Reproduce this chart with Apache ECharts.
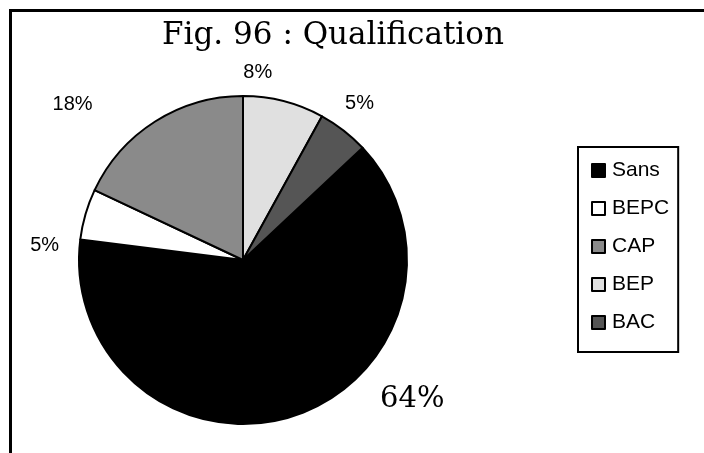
<!DOCTYPE html>
<html>
<head>
<meta charset="utf-8">
<script src="https://cdn.jsdelivr.net/npm/echarts@6/dist/echarts.min.js"></script>
<style>
  html, body { margin: 0; padding: 0; background: #fff; }
  #main { width: 704px; height: 453px; }
</style>
</head>
<body>
<div id="main"></div>
<script>
// qualification shares, in percent
const categories = ['Sans', 'BEPC', 'CAP', 'BEP', 'BAC'];
const shares = [64, 5, 18, 8, 5];
const sliceColors = ['#000000', '#ffffff', '#8a8a8a', '#e0e0e0', '#555555'];
// nudges so the percent labels sit where the original put them
const labelShift = [[77, -30], [-8, 35], [-50, -5], [-49, -15], [-12, -16]];

const myChart = echarts.init(document.getElementById('main'));

const pieData = categories.map((name, i) => ({
  name: name,
  value: shares[i],
  itemStyle: { color: sliceColors[i] },
  // the big slice gets the larger serif label
  label: i === 0 ? { fontFamily: 'DejaVu Serif', fontSize: 29 } : {}
}));

const option = {
  backgroundColor: '#fff',
  animation: false,
  title: {
    text: 'Fig. 96 : Qualification',
    left: 328,
    top: 15,
    textAlign: 'center',
    textStyle: {
      fontFamily: 'DejaVu Serif',
      fontWeight: 'normal',
      fontSize: 31,
      color: '#000'
    }
  },
  legend: {
    orient: 'vertical',
    left: 578,
    top: 147,
    padding: [13, 9, 19, 13],
    itemGap: 17,
    itemWidth: 13,
    itemHeight: 13,
    icon: 'rect',
    borderColor: '#000',
    borderWidth: 2,
    data: categories,
    textStyle: {
      fontFamily: 'Liberation Sans',
      fontSize: 21,
      color: '#000',
      padding: [0, 0, 0, 2]
    }
  },
  graphic: [
    { type: 'line', shape: { x1: 9, y1: 10.5, x2: 704, y2: 10.5 }, style: { stroke: '#000', lineWidth: 3 } },
    { type: 'line', shape: { x1: 10.5, y1: 9, x2: 10.5, y2: 453 }, style: { stroke: '#000', lineWidth: 3 } }
  ],
  series: [
    {
      type: 'pie',
      center: [243, 260],
      radius: 164,
      startAngle: 43.2,
      clockwise: true,
      avoidLabelOverlap: false,
      itemStyle: { borderColor: '#000', borderWidth: 2 },
      label: {
        show: true,
        position: 'outside',
        formatter: '{c}%',
        fontFamily: 'Liberation Sans',
        fontSize: 20,
        color: '#000'
      },
      labelLine: { show: false, length: 14, length2: 0 },
      labelLayout: function (params) {
        const s = labelShift[params.dataIndex];
        return { dx: s[0], dy: s[1] };
      },
      emphasis: { disabled: true },
      data: pieData
    }
  ]
};

myChart.setOption(option);
</script>
</body>
</html>
